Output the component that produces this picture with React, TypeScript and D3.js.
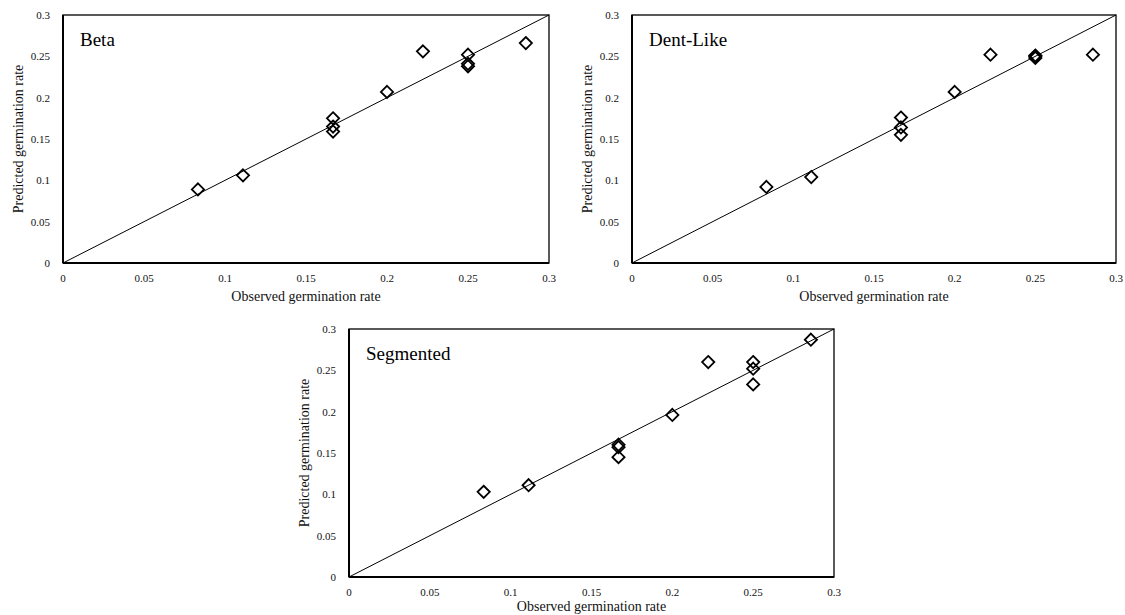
import * as d3 from "d3";

const W = 1125;
const H = 615;

// observed germination rates (shared by all three models)
const observed = [0.0833, 0.1111, 0.1667, 0.1667, 0.1667, 0.2, 0.2222, 0.25, 0.25, 0.25, 0.2857];
const betaPredicted = [0.089, 0.106, 0.175, 0.165, 0.159, 0.207, 0.256, 0.252, 0.241, 0.238, 0.266];
const dentPredicted = [0.092, 0.104, 0.176, 0.164, 0.155, 0.207, 0.252, 0.25, 0.248, 0.251, 0.252];
const segPredicted = [0.103, 0.111, 0.16, 0.157, 0.145, 0.196, 0.26, 0.26, 0.252, 0.233, 0.287];

const ticks = [0, 0.05, 0.1, 0.15, 0.2, 0.25, 0.3];
const tickLabels = ["0", "0.05", "0.1", "0.15", "0.2", "0.25", "0.3"];

const FONT = "'Liberation Serif', 'Times New Roman', serif";

type PanelProps = {
  title: string;
  predicted: number[];
  left: number;
  top: number;
  width: number;
  height: number;
  xTitleOffset?: number;
};

function Panel({ title, predicted, left, top, width, height, xTitleOffset = 38 }: PanelProps) {
  const x = d3.scaleLinear().domain([0, 0.3]).range([0, width]);
  const y = d3.scaleLinear().domain([0, 0.3]).range([height, 0]);
  const diamond = d3.symbol().type(d3.symbolDiamond2).size(95)();
  const pts = observed.map((o, i) => ({ o, p: predicted[i] }));

  return (
    <g transform={`translate(${left},${top})`}>
      {/* box */}
      <rect x={0} y={0} width={width} height={height} fill="none" stroke="#000" strokeWidth={1.3} />
      <line x1={0} x2={0} y1={0} y2={height} stroke="#000" strokeWidth={2} />
      <line x1={0} x2={width} y1={height} y2={height} stroke="#000" strokeWidth={2} />

      {/* 1:1 line */}
      <line x1={x(0)} y1={y(0)} x2={x(0.3)} y2={y(0.3)} stroke="#000" strokeWidth={1} />

      {pts.map((d, i) => (
        <path
          key={i}
          d={diamond ?? ""}
          transform={`translate(${x(d.o)},${y(d.p)})`}
          fill="none"
          stroke="#000"
          strokeWidth={1.8}
        />
      ))}

      {ticks.map((t, i) => (
        <text key={`y${t}`} x={-13} y={y(t)} dy="0.35em" textAnchor="end" fontSize={11} fontFamily={FONT} fill="#111">
          {tickLabels[i]}
        </text>
      ))}
      {ticks.map((t, i) => (
        <text key={`x${t}`} x={x(t)} y={height + 15} dy="0.35em" textAnchor="middle" fontSize={11} fontFamily={FONT} fill="#111">
          {tickLabels[i]}
        </text>
      ))}

      <text x={width / 2} y={height + xTitleOffset} textAnchor="middle" fontSize={14} fontFamily={FONT} fill="#111">
        Observed germination rate
      </text>
      <text
        transform={`translate(${-45},${height / 2}) rotate(-90)`}
        textAnchor="middle"
        dy="0.35em"
        fontSize={14}
        fontFamily={FONT}
        fill="#111"
      >
        Predicted germination rate
      </text>

      <text x={17} y={31} fontSize={19} fontFamily={FONT} fill="#000">
        {title}
      </text>
    </g>
  );
}

export default function App() {
  return (
    <svg
      width={W}
      height={H}
      style={{ position: "absolute", left: 0, top: 0, background: "#fff" }}
    >
      <rect width={W} height={H} fill="#fff" />
      <Panel title="Beta" predicted={betaPredicted} left={63} top={15} width={486} height={248} />
      <Panel title="Dent-Like" predicted={dentPredicted} left={632} top={15} width={484} height={248} />
      <Panel title="Segmented" predicted={segPredicted} left={349} top={329} width={485} height={248} xTitleOffset={34} />
    </svg>
  );
}
